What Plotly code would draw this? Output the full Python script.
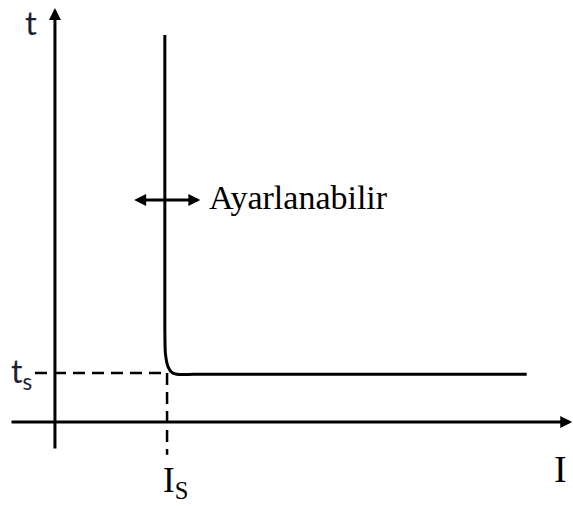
import plotly.graph_objects as go

# Characteristic of a definite-time overcurrent relay (schematic units)
I_S = 1.0          # pickup current (adjustable)
T_S = 1.0          # set time delay

# current / time points of the trip characteristic
curve_I = [0.99, 0.99, 0.995, 1.02, 1.06, 1.12, 1.25, 4.25]
curve_t = [7.90, 1.90, 1.40, 1.12, 1.00, 0.97, 0.975, 0.975]

# axis extents
I_min, I_max = -0.405, 4.66
t_min, t_max = -0.57, 8.45

# dashed reference lines
ref_h_I = [-0.18, I_S]
ref_h_t = [T_S, T_S]
ref_v_I = [1.01, 1.01]
ref_v_t = [T_S, -0.67]

# adjustment arrow
adj_I = [0.70, 1.31]
adj_t = 4.53
adj_label = "Ayarlanabilir"

fig = go.Figure()

fig.add_trace(go.Scatter(x=curve_I, y=curve_t, mode="lines",
                         line=dict(color="black", width=3, shape="spline", smoothing=0.6),
                         hoverinfo="skip"))
fig.add_trace(go.Scatter(x=ref_h_I, y=ref_h_t, mode="lines",
                         line=dict(color="black", width=2.5, dash="12px,7px"),
                         hoverinfo="skip"))
fig.add_trace(go.Scatter(x=ref_v_I, y=ref_v_t, mode="lines",
                         line=dict(color="black", width=2.5, dash="12px,7px"),
                         hoverinfo="skip"))

arrow = dict(showarrow=True, arrowhead=2, arrowsize=0.8, arrowwidth=3,
             arrowcolor="black", axref="x", ayref="y", text="")

# t axis
fig.add_annotation(x=0, y=t_max, ax=0, ay=t_min, **arrow)
# I axis
fig.add_annotation(x=I_max, y=0, ax=I_min, ay=0, **arrow)
# double-headed adjustment arrow
fig.add_annotation(x=adj_I[1], y=adj_t, ax=adj_I[0], ay=adj_t,
                   arrowside="end+start", **arrow)

serif = "Liberation Serif, Times New Roman, serif"
sans = "Lato, sans-serif"
ink = "#1c2233"

fig.add_annotation(x=1.37, y=adj_t + 0.05, text=adj_label, showarrow=False,
                   xanchor="left", yanchor="middle",
                   font=dict(family=serif, size=34, color="black"))
fig.add_annotation(x=-0.215, y=8.17, text="t", showarrow=False,
                   xanchor="center", yanchor="middle",
                   font=dict(family=sans, size=33, color=ink))
fig.add_annotation(x=-0.185, y=1.0, text="t<sub>s</sub>", showarrow=False,
                   xanchor="right", yanchor="middle",
                   font=dict(family=sans, size=32, color=ink))
fig.add_annotation(x=0.955, y=-1.24, text="I<sub>S</sub>", showarrow=False,
                   xanchor="left", yanchor="middle",
                   font=dict(family=serif, size=35, color="black"))
fig.add_annotation(x=4.55, y=-0.95, text="I", showarrow=False,
                   xanchor="center", yanchor="middle",
                   font=dict(family=serif, size=38, color="black"))

fig.update_layout(
    width=573, height=506,
    margin=dict(l=0, r=0, t=0, b=0),
    paper_bgcolor="white", plot_bgcolor="white",
    showlegend=False,
    xaxis=dict(range=[-0.495, 4.667], visible=False, fixedrange=True),
    yaxis=dict(range=[-1.714, 8.612], visible=False, fixedrange=True),
)

fig.write_html("out.html")
